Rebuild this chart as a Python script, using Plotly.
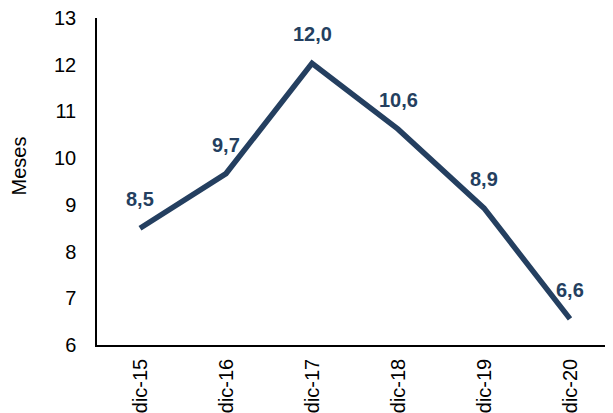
import plotly.graph_objects as go

categories = ["dic-15", "dic-16", "dic-17", "dic-18", "dic-19", "dic-20"]
values = [8.5, 9.67, 12.03, 10.62, 8.93, 6.56]
labels = ["8,5", "9,7", "12,0", "10,6", "8,9", "6,6"]
y_ticks = [6, 7, 8, 9, 10, 11, 12, 13]

color = "#243F60"
font_family = "Liberation Sans, Arial"
fig = go.Figure()
fig.add_trace(go.Scatter(x=categories, y=values, mode="lines",
                         line=dict(color=color, width=5.5), hoverinfo="skip"))
for c, v, t in zip(categories, values, labels):
    fig.add_annotation(x=c, y=v, text=f"<b>{t}</b>", showarrow=False,
                       yshift=29, font=dict(family=font_family, size=20, color=color))

fig.add_annotation(xref="paper", yref="paper", x=0, y=0.546, xshift=-78,
                   text="Meses", textangle=-90, showarrow=False,
                   xanchor="center", yanchor="middle", borderpad=0,
                   font=dict(family=font_family, size=20, color="black"))

fig.update_layout(
    width=613, height=413,
    margin=dict(l=89, r=8, t=10, b=76, autoexpand=False),
    paper_bgcolor="white", plot_bgcolor="white",
    showlegend=False,
    font=dict(family=font_family, size=20, color="black"),
    xaxis=dict(type="category", range=[-0.5, 5.5], showgrid=False, showline=True,
               linecolor="black", linewidth=1.5, ticks="", tickangle=-90, zeroline=False,
               automargin=False, ticklabelstandoff=4, ticklabeloverflow="allow"),
    yaxis=dict(range=[6, 13], tickvals=y_ticks, showgrid=False, showline=True,
               linecolor="black", linewidth=1.5, ticks="", zeroline=False,
               automargin=False, ticklabelstandoff=15, ticklabeloverflow="allow"),
)
fig.write_html("out.html")
